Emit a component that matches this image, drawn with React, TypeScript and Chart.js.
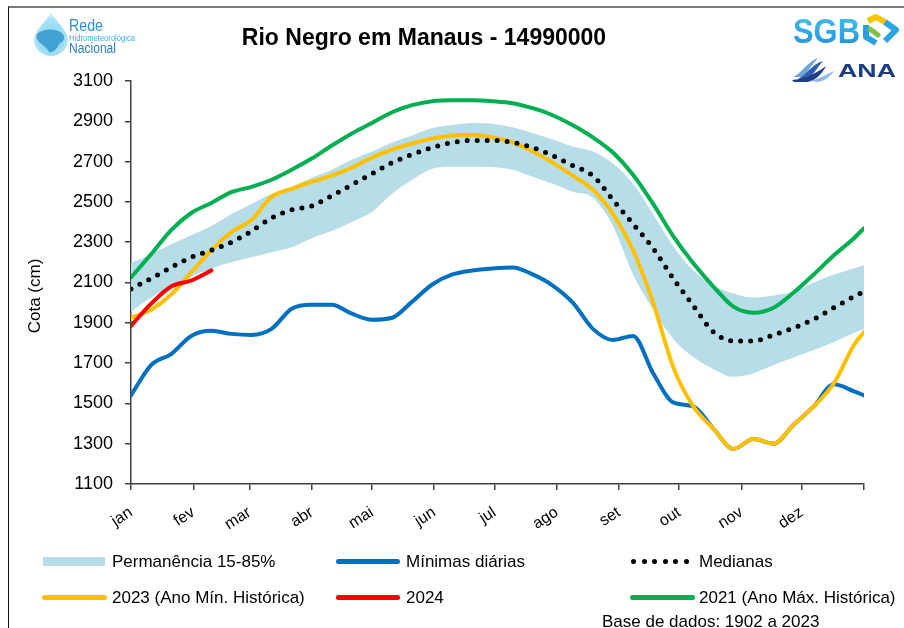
import React, { useEffect, useRef } from "react";
import { Chart, registerables } from "chart.js";

Chart.register(...registerables);

const FONT = "'Liberation Sans', Arial, Helvetica, sans-serif";

// day of year for every sample
const days = [0, 10, 20, 30, 40, 50, 60, 70, 80, 90, 100, 110, 120, 130, 140, 150, 160, 170, 180, 190, 200, 210, 220, 230, 240, 250, 260, 270, 280, 290, 300, 310, 320, 330, 340, 350, 360, 365];

const monthStarts = [0, 31, 59, 90, 120, 151, 181, 212, 243, 273, 304, 334, 365];
const monthLabels = ["jan", "fev", "mar", "abr", "mai", "jun", "jul", "ago", "set", "out", "nov", "dez", ""];

const yMin = 1100;
const yMax = 3100;
const yStep = 200;

// Permanência 15-85%
const bandUpper = [2197, 2240, 2290, 2335, 2380, 2440, 2490, 2540, 2575, 2620, 2660, 2710, 2750, 2795, 2830, 2867, 2882, 2892, 2888, 2870, 2842, 2810, 2775, 2750, 2690, 2590, 2440, 2280, 2160, 2085, 2045, 2025, 2035, 2055, 2100, 2140, 2170, 2185];
const bandLower = [1955, 2025, 2080, 2130, 2170, 2200, 2225, 2250, 2275, 2320, 2355, 2400, 2450, 2540, 2610, 2665, 2675, 2675, 2672, 2660, 2625, 2590, 2550, 2520, 2380, 2140, 1965, 1820, 1730, 1670, 1632, 1650, 1690, 1728, 1765, 1805, 1850, 1870];

// Mínimas diárias
const minDaily = [1540, 1690, 1745, 1835, 1860, 1845, 1840, 1870, 1970, 1990, 1990, 1945, 1915, 1925, 2005, 2090, 2140, 2160, 2170, 2175, 2140, 2085, 2000, 1870, 1815, 1835, 1650, 1505, 1485, 1375, 1274, 1323, 1300, 1395, 1485, 1595, 1560, 1540];

// Medianas
const median = [2068, 2120, 2175, 2225, 2260, 2300, 2355, 2420, 2460, 2480, 2530, 2585, 2640, 2695, 2735, 2770, 2795, 2805, 2805, 2795, 2770, 2730, 2680, 2630, 2510, 2390, 2270, 2120, 1985, 1855, 1810, 1810, 1840, 1875, 1918, 1975, 2030, 2055];

// 2023 (Ano Mín. Histórica)
const year2023 = [1925, 1965, 2040, 2150, 2260, 2350, 2410, 2525, 2565, 2600, 2630, 2670, 2720, 2760, 2790, 2815, 2830, 2833, 2820, 2795, 2750, 2695, 2630, 2560, 2440, 2260, 2000, 1680, 1485, 1375, 1274, 1323, 1300, 1395, 1485, 1600, 1790, 1855];

// 2024
const year2024 = [1885, 1995, 2080, 2110, 2160];

// 2021 (Ano Máx. Histórica)
const year2021 = [2125, 2240, 2360, 2445, 2495, 2548, 2575, 2610, 2660, 2715, 2780, 2840, 2892, 2945, 2980, 3000, 3005, 3005, 3000, 2990, 2965, 2930, 2880, 2820, 2745, 2635, 2490, 2330, 2195, 2080, 1980, 1950, 1975, 2050, 2140, 2235, 2320, 2370];

const pts = (vals: number[]) => vals.map((v, i) => ({ x: days[i], y: v }));

const lineBase = {
  pointRadius: 0,
  fill: false,
  cubicInterpolationMode: "monotone" as const,
  borderJoinStyle: "round" as const,
  borderCapStyle: "round" as const,
};

function ChartCanvas() {
  const ref = useRef<HTMLCanvasElement | null>(null);
  useEffect(() => {
    if (!ref.current) return;
    const axisColor = "#404040";
    const chart = new Chart(ref.current, {
      type: "line",
      data: {
        datasets: [
          { ...lineBase, label: "Permanência 15-85%", data: pts(bandUpper), borderWidth: 0, borderColor: "rgba(0,0,0,0)", backgroundColor: "#b7dee8", fill: "+1", order: 10 },
          { ...lineBase, label: "lower", data: pts(bandLower), borderWidth: 0, borderColor: "rgba(0,0,0,0)", order: 11 },
          { ...lineBase, label: "Mínimas diárias", data: pts(minDaily), borderColor: "#0070c0", borderWidth: 4, order: 6 },
          { ...lineBase, label: "2021 (Ano Máx. Histórica)", data: pts(year2021), borderColor: "#00b050", borderWidth: 4, order: 5 },
          { ...lineBase, label: "2023 (Ano Mín. Histórica)", data: pts(year2023), borderColor: "#ffc000", borderWidth: 4, order: 4 },
          { ...lineBase, label: "2024", data: pts(year2024), borderColor: "#ff0000", borderWidth: 4, order: 3 },
          { ...lineBase, label: "Medianas", data: pts(median), borderColor: "#000000", borderWidth: 5, borderDash: [0, 10], borderCapStyle: "round", order: 1 },
        ],
      },
      options: {
        responsive: false,
        maintainAspectRatio: false,
        animation: false,
        events: [],
        layout: { padding: { left: 20, right: 40, top: 81, bottom: 84 } },
        plugins: { legend: { display: false }, tooltip: { enabled: false }, title: { display: false } },
        scales: {
          x: {
            type: "linear",
            min: 0,
            max: 365,
            afterBuildTicks: (s: any) => {
              s.ticks = monthStarts.map((v) => ({ value: v }));
            },
            afterFit: (s: any) => {
              s.height = 60;
            },
            ticks: {
              autoSkip: false,
              minRotation: 33,
              maxRotation: 33,
              padding: 13,
              color: "#000",
              font: { family: FONT, size: 16 },
              callback: (_v: any, i: number) => monthLabels[i],
            },
            grid: { drawOnChartArea: false, drawTicks: true, tickLength: 6, color: axisColor, lineWidth: 1.5 },
            border: { display: true, color: axisColor, width: 1.5 },
          },
          y: {
            min: yMin,
            max: yMax,
            afterFit: (s: any) => {
              s.width = 111;
            },
            ticks: {
              stepSize: yStep,
              padding: 12,
              color: "#000",
              font: { family: FONT, size: 18 },
              callback: (v: any) => String(v),
            },
            grid: { drawOnChartArea: false, drawTicks: true, tickLength: 6, color: axisColor, lineWidth: 1.5 },
            border: { display: true, color: axisColor, width: 1.5 },
          },
        },
      },
    });
    return () => chart.destroy();
  }, []);
  return <canvas ref={ref} width={904} height={628} style={{ position: "absolute", left: 0, top: 0, width: 904, height: 628 }} />;
}

const txt = (left: number, centerY: number, text: string, size = 17, extra: any = {}) => (
  <div
    style={{
      position: "absolute",
      left,
      top: centerY - size / 2,
      fontSize: size,
      lineHeight: `${size}px`,
      whiteSpace: "nowrap",
      color: "#000",
      ...extra,
    }}
  >
    {text}
  </div>
);

const lineSwatch = (left: number, cy: number, color: string, width = 64) => (
  <div style={{ position: "absolute", left, top: cy - 2.5, width, height: 5, borderRadius: 3, background: color }} />
);

function Logos() {
  return (
    <>
      {/* Rede Hidrometeorológica Nacional */}
      <svg style={{ position: "absolute", left: 32, top: 11 }} width={38} height={46}>
        <defs>
          <radialGradient id="dropG" cx="50%" cy="62%" r="60%">
            <stop offset="0%" stopColor="#7fd0f0" />
            <stop offset="75%" stopColor="#a9e2f7" />
            <stop offset="100%" stopColor="#e6f7fd" />
          </radialGradient>
        </defs>
        <path d="M19 1 C 25 12, 36 20, 36 29 A 17 16 0 0 1 2 29 C 2 20, 13 12, 19 1 Z" fill="url(#dropG)" />
        <path d="M6 22 C 12 18, 22 17, 30 22 C 34 26, 32 31, 27 33 C 25 38, 21 42, 17 41 C 15 36, 10 34, 6 30 C 4 27, 4 24, 6 22 Z" fill="#3c9ccf" opacity={0.9} />
      </svg>
      <svg style={{ position: "absolute", left: 68, top: 14 }} width={72} height={42}>
        <text x={1} y={17} fontFamily={FONT} fontSize={17} fill="#2f8ed3" textLength={34} lengthAdjust="spacingAndGlyphs">Rede</text>
        <text x={1} y={27} fontFamily={FONT} fontSize={8.5} fill="#39b1e8" textLength={66} lengthAdjust="spacingAndGlyphs">Hidrometeorológica</text>
        <text x={1} y={39} fontFamily={FONT} fontSize={14} fill="#2a7fc4" textLength={47} lengthAdjust="spacingAndGlyphs">Nacional</text>
      </svg>
      {/* SGB */}
      <svg style={{ position: "absolute", left: 790, top: 13 }} width={112} height={34}>
        <defs>
          <linearGradient id="sgbG" x1="0" y1="0" x2="0" y2="1">
            <stop offset="0%" stopColor="#4cc5f2" />
            <stop offset="100%" stopColor="#1d8fd9" />
          </linearGradient>
        </defs>
        <text x={3} y={30} fontFamily={FONT} fontSize={35} fontWeight={900} fill="url(#sgbG)" textLength={67} lengthAdjust="spacingAndGlyphs">SGB</text>
        <path d="M78 8 L86 4 L95 9" stroke="#f6c400" strokeWidth={6} fill="none" strokeLinejoin="round" />
        <path d="M95 9 L106 17 L95 28" stroke="#2aa5e0" strokeWidth={6} fill="none" strokeLinejoin="round" />
        <path d="M76 12 L76 24 L86 30" stroke="#2a9ee0" strokeWidth={6} fill="none" strokeLinejoin="round" />
        <path d="M80 16 L88 22" stroke="#7cc242" strokeWidth={5} fill="none" strokeLinecap="round" />
      </svg>
      {/* ANA */}
      <svg style={{ position: "absolute", left: 790, top: 55 }} width={112} height={28}>
        <path d="M3 22 C 12 18, 18 6, 28 3 C 22 10, 18 16, 12 22 Z" fill="#6fa6dc" />
        <path d="M8 24 C 16 20, 22 9, 33 6 C 27 13, 24 19, 18 24 Z" fill="#2f5fae" />
        <path d="M2 25 C 14 24, 24 20, 36 11 C 32 19, 26 25, 18 27 L 4 27 Z" fill="#1d3f86" />
        <path d="M20 26 C 28 24, 36 20, 44 16 C 40 22, 34 26, 28 27 Z" fill="#8fb8e6" />
        <text x={48} y={22} fontFamily={FONT} fontSize={19} fontWeight={700} fill="#1c3d80" textLength={58} lengthAdjust="spacingAndGlyphs">ANA</text>
      </svg>
    </>
  );
}

export default function App() {
  const dots = [0, 1, 2, 3, 4, 5];
  return (
    <div style={{ position: "fixed", left: 0, top: 0, width: 904, height: 628, background: "#fff", overflow: "hidden", fontFamily: FONT }}>
      <div style={{ position: "absolute", left: 8, top: 6, width: 920, height: 700, borderTop: "2px solid #7a7a7a", borderLeft: "1px solid #111" }} />
      <ChartCanvas />
      <Logos />
      <div style={{ position: "absolute", left: 0, width: 848, top: 26, textAlign: "center", fontSize: 23, lineHeight: "23px", fontWeight: 700, color: "#000", whiteSpace: "nowrap" }}>
        Rio Negro em Manaus - 14990000
      </div>
      <div style={{ position: "absolute", left: 35 - 60, top: 296 - 10, width: 120, height: 20, textAlign: "center", fontSize: 17, lineHeight: "20px", transform: "rotate(-90deg)", whiteSpace: "nowrap", color: "#000" }}>
        Cota (cm)
      </div>
      {/* legend row 1 */}
      <div style={{ position: "absolute", left: 43, top: 557, width: 62, height: 9, background: "#b7dee8" }} />
      {txt(112, 561, "Permanência 15-85%")}
      {lineSwatch(336, 561, "#0070c0")}
      {txt(406, 561, "Mínimas diárias")}
      {dots.map((d) => (
        <div key={d} style={{ position: "absolute", left: 631 + d * 10.5, top: 559, width: 5, height: 5, borderRadius: 3, background: "#000" }} />
      ))}
      {txt(699, 561, "Medianas")}
      {/* legend row 2 */}
      {lineSwatch(42, 597, "#ffc000", 65)}
      {txt(112, 597, "2023 (Ano Mín. Histórica)")}
      {lineSwatch(336, 597, "#ff0000")}
      {txt(406, 597, "2024")}
      {lineSwatch(630, 597, "#00b050", 65)}
      {txt(699, 597, "2021 (Ano Máx. Histórica)")}
      {txt(602, 621, "Base de dados: 1902 a 2023")}
    </div>
  );
}
